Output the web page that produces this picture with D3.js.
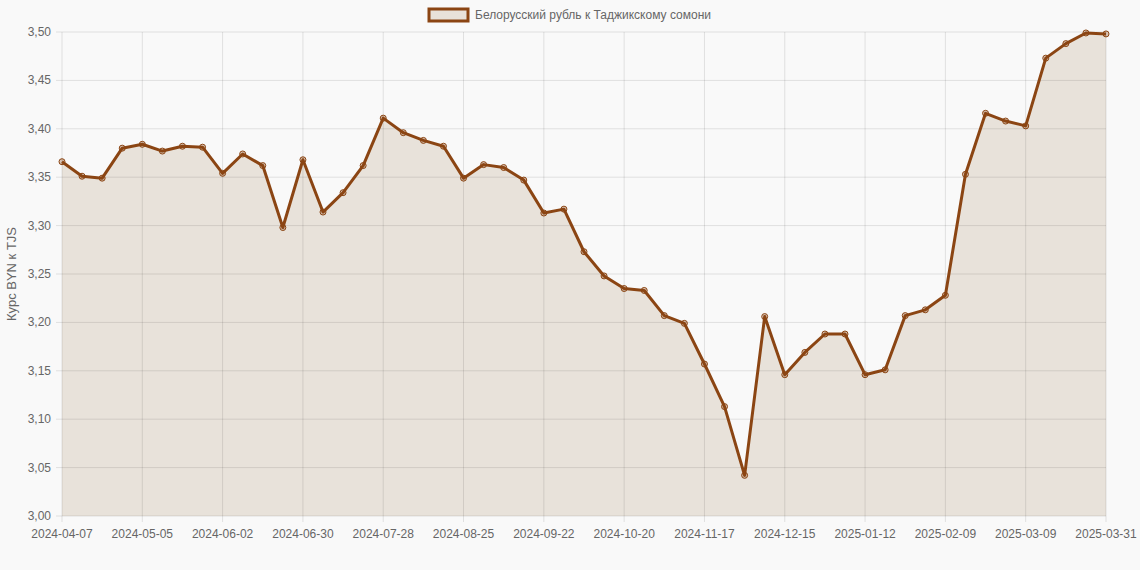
<!DOCTYPE html>
<html><head><meta charset="utf-8">
<script src="https://cdn.jsdelivr.net/npm/d3@7"></script>
<style>body{margin:0;background:#f9f9f9;font-family:"Liberation Sans",Arial,sans-serif}</style>
</head><body><svg id="c" width="1140" height="570"></svg>
<script>
const values = [3.366,3.351,3.349,3.380,3.384,3.377,3.382,3.381,3.354,3.374,3.362,3.298,3.368,3.314,3.334,3.362,3.411,3.396,3.388,3.382,3.349,3.363,3.360,3.347,3.313,3.317,3.273,3.248,3.235,3.233,3.207,3.199,3.157,3.113,3.042,3.206,3.146,3.169,3.188,3.188,3.146,3.151,3.207,3.213,3.228,3.353,3.416,3.408,3.403,3.473,3.488,3.499,3.498];
const fmt = d3.timeFormat('%Y-%m-%d');
const dates = values.map((v,i)=> i==values.length-1 ? '2025-03-31' : fmt(d3.timeDay.offset(new Date(2024,3,7), 7*i)));
const yTicks = d3.range(3.0, 3.501, 0.05);
const label = 'Белорусский рубль к Таджикскому сомони';

const svg = d3.select('#c');
const x = d3.scalePoint().domain(dates).range([62,1106]);
const y = d3.scaleLinear().domain([3.0,3.5]).range([516,32]);
const col = '#8B4513';

// area first, grid drawn on top like the reference
svg.append('path').datum(values)
  .attr('d', d3.area().x((d,i)=>x(dates[i])).y0(y(3.0)).y1(d=>y(d)))
  .attr('fill','#e8e2da');

// grid
svg.append('g').selectAll('line').data(yTicks).join('line')
  .attr('x1',56).attr('x2',1106).attr('y1',d=>y(d)).attr('y2',d=>y(d))
  .attr('stroke','rgba(0,0,0,0.1)');
const xt = dates.filter((d,i)=> i%4==0 || i==dates.length-1);
svg.append('g').selectAll('line').data(xt).join('line')
  .attr('x1',d=>x(d)).attr('x2',d=>x(d)).attr('y1',32).attr('y2',522)
  .attr('stroke','rgba(0,0,0,0.1)');

// labels
svg.append('g').selectAll('text').data(yTicks).join('text')
  .attr('x',51).attr('y',d=>y(d)+4).attr('text-anchor','end')
  .attr('font-size',12).attr('fill','#666').text(d=>d.toFixed(2).replace('.',','));
svg.append('g').selectAll('text').data(xt).join('text')
  .attr('x',d=>x(d)).attr('y',538).attr('text-anchor','middle')
  .attr('font-size',12).attr('fill','#666').text(d=>d);
svg.append('text').attr('transform','translate(16,274) rotate(-90)')
  .attr('text-anchor','middle').attr('font-size',13).attr('fill','#666').text('Курс BYN к TJS');

// line + points
svg.append('path').datum(values)
  .attr('d', d3.line().x((d,i)=>x(dates[i])).y(d=>y(d)))
  .attr('fill','none').attr('stroke',col).attr('stroke-width',3).attr('stroke-linejoin','round');
svg.append('g').selectAll('circle').data(values).join('circle')
  .attr('cx',(d,i)=>x(dates[i])).attr('cy',d=>y(d)).attr('r',3)
  .attr('fill','rgba(139,69,19,0.3)').attr('stroke',col).attr('stroke-width',1);

// legend
const lg = svg.append('g');
lg.append('rect').attr('x',429).attr('y',9).attr('width',39).attr('height',12)
  .attr('fill','#e8e2da').attr('stroke',col).attr('stroke-width',3);
lg.append('text').attr('x',475).attr('y',19).attr('font-size',12).attr('fill','#666').text(label);
</script></body></html>
